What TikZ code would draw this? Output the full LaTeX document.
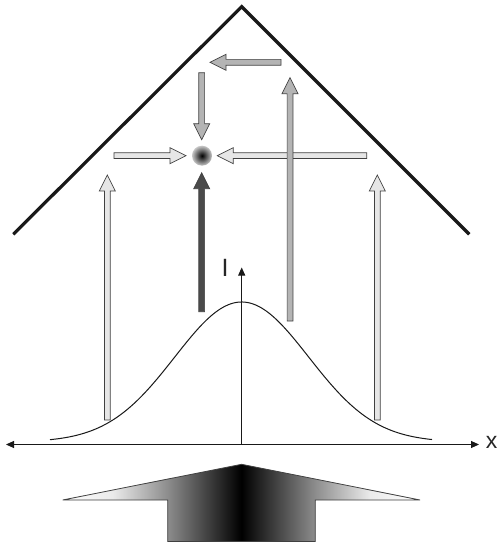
\documentclass[tikz,border=0pt]{standalone}
\usepackage{fontspec}
\setmainfont{Liberation Sans}
\usetikzlibrary{arrows.meta}
\pgfdeclarehorizontalshading{bumpshade}{100bp}{color(0bp)=(white); color(25bp)=(white); color(32bp)=(black!8); color(39.7bp)=(black!45); color(50bp)=(black); color(60.3bp)=(black!45); color(68bp)=(black!8); color(75bp)=(white); color(100bp)=(white)}
\newcommand\blockarrow[5]{%
  \begin{scope}[shift={(#2,#3)}, rotate=#4]
    \draw[arrowline, fill=#1] (0,-2.9) -- (#5-16,-2.9) -- (#5-16,-8) -- (#5,0) -- (#5-16,8) -- (#5-16,2.9) -- (0,2.9) -- cycle;
  \end{scope}}
\begin{document}
\begin{tikzpicture}[x=1pt, y=-1pt,
  arrowline/.style={draw=black!75, line width=0.7pt, line join=miter},
  roof/.style={line width=3.2pt, draw=black!90, line join=miter},
  axis/.style={line width=0.9pt, draw=black!90},
  tip/.style={-{Triangle[length=8pt,width=7pt]}},
  lbl/.style={inner sep=0pt, text=black!85}]
\useasboundingbox (0,0) rectangle (501,545);
\fill[white] (0,0) rectangle (501,545);
% roof
\coordinate (rl) at (13.3,234.3);
\coordinate (ra) at (241.7,6.7);
\coordinate (rr) at (469.3,234.3);
\draw[roof] (rl) -- (ra) -- (rr);
% block arrows
\definecolor{midgray}{HTML}{B4B4B4}
\definecolor{lightgray}{HTML}{E6E6E6}
\definecolor{darkgray}{HTML}{4A4A4A}
\blockarrow{midgray}{281}{62.3}{180}{71}
\blockarrow{midgray}{201.7}{72.7}{-90}{67}
\blockarrow{lightgray}{114}{155.7}{0}{72}
\blockarrow{lightgray}{366.7}{155.7}{180}{149.4}
\blockarrow{darkgray}{201.7}{311.7}{90}{139}
\blockarrow{midgray}{290}{321}{90}{243.3}
\blockarrow{lightgray}{107.3}{420}{90}{245}
\blockarrow{lightgray}{377.3}{420}{90}{245}
% blob
\shade[inner color=black, outer color=black!22] (202,155.7) circle (10);
% axes
\coordinate (xl) at (6,444.5);
\coordinate (xr) at (479,444.5);
\coordinate (yb) at (241.7,444.5);
\coordinate (yt) at (241.7,267.5);
\draw[axis, {Triangle[length=8pt,width=7pt]}-{Triangle[length=8pt,width=7pt]}] (xl) -- (xr);
\draw[axis, tip] (yb) -- (yt);
\node[lbl, font=\fontsize{23}{23}\selectfont] (xlab) at (491.7,442.5) {x};
\node[lbl, font=\fontsize{25}{25}\selectfont] (ilab) at (225,267.5) {I};
% gaussian
\draw[line width=1pt, black!90] plot[domain=50:432, samples=160, smooth] (\x, {442-140*exp(-0.5*((\x-241.7)/67)^2)});
% bottom shape
\shade[shading=bumpshade] (62.7,500) -- (241.7,464.3) -- (420,500) -- (315.3,500) -- (315.3,541.5) -- (167.7,541.5) -- (167.7,500) -- cycle;
\draw[line width=0.8pt, draw=black!75, line join=miter] (62.7,500) -- (241.7,464.3) -- (420,500) -- (315.3,500) -- (315.3,541.5) -- (167.7,541.5) -- (167.7,500) -- cycle;
\end{tikzpicture}
\end{document}
